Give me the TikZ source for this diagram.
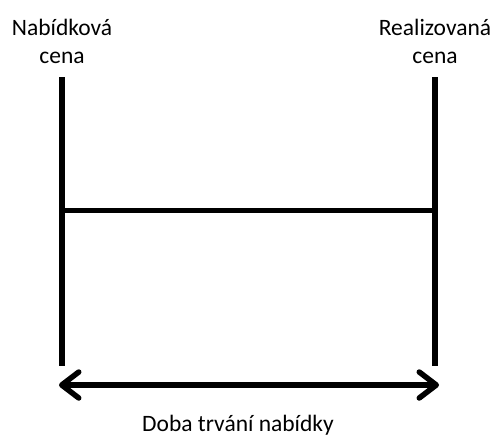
\documentclass[tikz,border=0pt]{standalone}
\usepackage{fontspec}
\setmainfont{Carlito}
\usetikzlibrary{arrows.meta}

\begin{document}
\begin{tikzpicture}[x=1pt,y=-1pt,
    label text/.style={font=\fontsize{23.5}{28}\selectfont,align=center,inner sep=0pt},
    price line/.style={line width=6pt},
    span arrow/.style={line width=5.5pt,{Straight Barb[length=17pt,width=26pt,round]}-{Straight Barb[length=17pt,width=26pt,round]}}]
\useasboundingbox (0,0) rectangle (493,437);
% the two prices
% left at x=62, right at x=435
\foreach \name/\x in {offer/62, real/435}{
    \coordinate (\name-top) at (\x,77);
    \coordinate (\name-mid) at (\x,210);
    \coordinate (\name-bottom) at (\x,366);
    \coordinate (\name-arrow) at (\x,385);
}

% labels above the lines (base = last line)
\node[label text,anchor=base] (offer) at (62,63) {Nabídková\\cena};
\node[label text,anchor=base] (real) at (435,63) {Realizovaná\\cena};

% vertical lines and the link between them
\draw[price line] (offer-top) -- (offer-bottom);
\draw[price line] (real-top) -- (real-bottom);
\draw[line width=5pt] (offer-mid) -- (real-mid);

% duration
\draw[span arrow] ([xshift=-3pt]offer-arrow) -- ([xshift=4pt]real-arrow);
\node[label text,anchor=base] (duration) at (238,431) {Doba trvání nabídky};
\end{tikzpicture}
\end{document}
